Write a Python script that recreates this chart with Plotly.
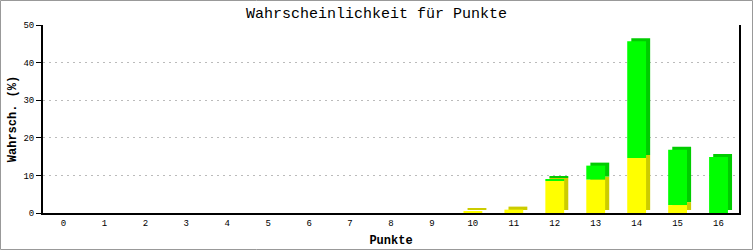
import plotly.graph_objects as go

punkte = list(range(17))
gelb = [0, 0, 0, 0, 0, 0, 0, 0, 0, 0, 0.4, 0.9, 8.6, 8.9, 14.6, 2.1, 0.0]
gruen = [0, 0, 0, 0, 0, 0, 0, 0, 0, 0, 0.0, 0.0, 0.4, 3.7, 31.1, 14.7, 14.9]
y_ticks = [0, 10, 20, 30, 40, 50]

W = 0.46
DX = 0.1
DY = 0.8

fig = go.Figure()
# depth (3D side) traces
fig.add_trace(go.Bar(x=punkte, y=gelb, base=[DY] * len(punkte), width=W, offset=-W / 2 + DX,
                     marker=dict(color="#cccc00", line=dict(width=0)), hoverinfo="skip"))
fig.add_trace(go.Bar(x=punkte, y=gruen, base=[g + DY for g in gelb], width=W, offset=-W / 2 + DX,
                     marker=dict(color="#00cc00", line=dict(width=0)), hoverinfo="skip"))
# front faces
fig.add_trace(go.Bar(x=punkte, y=gelb, base=[0] * len(punkte), width=W, offset=-W / 2,
                     marker=dict(color="#ffff00", line=dict(width=0))))
fig.add_trace(go.Bar(x=punkte, y=gruen, base=gelb, width=W, offset=-W / 2,
                     marker=dict(color="#00ff00", line=dict(width=0))))

mono = "Liberation Mono"
fig.update_layout(
    width=753, height=250,
    barmode="overlay", showlegend=False,
    paper_bgcolor="white", plot_bgcolor="white",
    margin=dict(l=43, r=14, t=25, b=37, autoexpand=False),
    title=dict(text="Wahrscheinlichkeit für Punkte", x=0.5, xanchor="center", y=0.95, yanchor="middle",
               font=dict(family=mono, size=15, color="black")),
    xaxis=dict(range=[-0.5, 16.5], tickmode="array", tickvals=punkte, ticktext=[str(p) for p in punkte],
               showgrid=False, zeroline=False, showline=True, linecolor="black", linewidth=2,
               ticks="", tickfont=dict(family=mono, size=9, color="black"), automargin=False,
               title=dict(text="<b>Punkte</b>", font=dict(family=mono, size=12, color="black"), standoff=8)),
    yaxis=dict(range=[0, 50], tickmode="array", tickvals=y_ticks, ticktext=[str(t) for t in y_ticks],
               showgrid=True, gridcolor="#bbbbbb", griddash="2px,4px", gridwidth=1,
               zeroline=False, showline=True, linecolor="black", linewidth=2, mirror=True,
               ticks="outside", ticklen=5, tickcolor="black", tickwidth=1, automargin=False,
               tickfont=dict(family=mono, size=9, color="black"),
               title=dict(text="<b>Wahrsch. (%)</b>", font=dict(family=mono, size=12, color="black"), standoff=4)),
    shapes=[dict(type="rect", xref="paper", yref="paper",
                 x0=-42.5 / 696, x1=(752.5 - 43) / 696, y0=-36.5 / 188, y1=24.5 / 188 + 1,
                 line=dict(color="#999999", width=1), fillcolor="rgba(0,0,0,0)", layer="below")],
)

fig.write_html("out.html")
